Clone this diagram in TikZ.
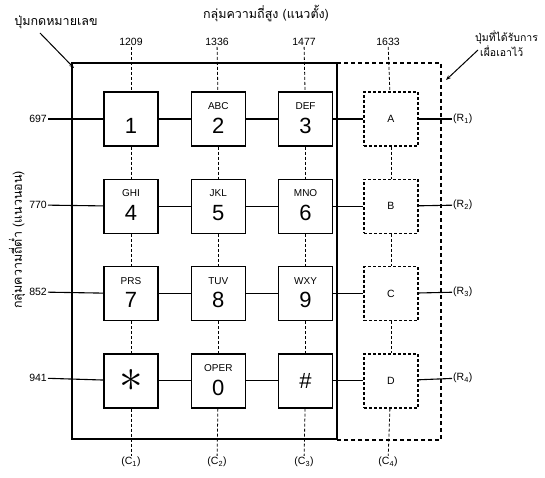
\documentclass[tikz,border=0pt]{standalone}
\usepackage{fontspec}
\setmainfont{Liberation Sans}
\newfontfamily\thaifont[Script=Thai]{Loma}
\usetikzlibrary{arrows.meta,positioning}

\newcommand{\keylbl}[2]{\begin{tabular}{@{}c@{}}\fontsize{10}{10}\selectfont\strut #1\\[5pt]\fontsize{22}{22}\selectfont #2\end{tabular}}

\begin{document}
\begin{tikzpicture}[x=1pt, y=-1pt,
    node distance=32pt,
    key/.style={rectangle, draw, line width=1.3pt, minimum size=54pt, inner sep=0pt},
    spare/.style={key, dash pattern=on 3pt off 2pt, font=\fontsize{10.5}{10.5}\selectfont},
    freq/.style={font=\fontsize{10.5}{10.5}\selectfont, inner sep=1pt},
    thai/.style={font=\thaifont\fontsize{12.5}{15}\selectfont, inner sep=1pt},
    link/.style={line width=1.1pt},
    col/.style={line width=0.8pt, densely dashed},
    note/.style={line width=1pt, -{Stealth[length=5pt]}},
]
\useasboundingbox (0,0) rectangle (545,478);

% frames
\draw[line width=1.3pt] (72,63) rectangle (337,439);
\draw[line width=1.3pt, dash pattern=on 4pt off 3pt] (337,63) -- (441,63) -- (441,440) -- (337,440);

% keys
\node[key] (k1) at (131,119) {\keylbl{}{1}};
\node[key, right=of k1] (k2) {\keylbl{ABC}{2}};
\node[key, right=of k2] (k3) {\keylbl{DEF}{3}};
\node[spare, right=30pt of k3] (kA) {A};
\node[key, below=of k1] (k4) {\keylbl{GHI}{4}};
\node[key, right=of k4] (k5) {\keylbl{JKL}{5}};
\node[key, right=of k5] (k6) {\keylbl{MNO}{6}};
\node[spare, right=30pt of k6] (kB) {B};
\node[key, below=of k4] (k7) {\keylbl{PRS}{7}};
\node[key, right=of k7] (k8) {\keylbl{TUV}{8}};
\node[key, right=of k8] (k9) {\keylbl{WXY}{9}};
\node[spare, right=30pt of k9] (kC) {C};
\node[key, below=of k7] (kS) {\scalebox{1.9}{\Huge$\ast$}};
\node[key, right=of kS] (k0) {\keylbl{OPER}{0}};
\node[key, right=of k0, font=\fontsize{22}{22}\selectfont] (kH) {\#};
\node[spare, right=30pt of kH] (kD) {D};

% frequencies
\node[freq] (f1209) at (131,42) {1209};
\node[freq] (f1336) at (217,42) {1336};
\node[freq] (f1477) at (304,42) {1477};
\node[freq] (f1633) at (388,42) {1633};
\node[freq, anchor=east] (f697) at (48,119) {697};
\node[freq, anchor=east] (f770) at (48,205) {770};
\node[freq, anchor=east] (f852) at (48,292) {852};
\node[freq, anchor=east] (f941) at (48,378) {941};
\node[freq, anchor=west] (r1) at (452,119) {(R\textsubscript{1})};
\node[freq, anchor=west] (r2) at (452,205) {(R\textsubscript{2})};
\node[freq, anchor=west] (r3) at (452,292) {(R\textsubscript{3})};
\node[freq, anchor=west] (r4) at (452,378) {(R\textsubscript{4})};
\node[freq] (c1) at (131,462) {(C\textsubscript{1})};
\node[freq] (c2) at (217,462) {(C\textsubscript{2})};
\node[freq] (c3) at (304,462) {(C\textsubscript{3})};
\node[freq] (c4) at (388,462) {(C\textsubscript{4})};

% rows
\foreach \a/\b in {f697/k1, k1/k2, k2/k3, k3/kA, kA/r1,
                   f770/k4, k4/k5, k5/k6, k6/kB, kB/r2,
                   f852/k7, k7/k8, k8/k9, k9/kC, kC/r3,
                   f941/kS, kS/k0, k0/kH, kH/kD, kD/r4}
    \draw[link] (\a) -- (\b);
% columns
\foreach \a/\b in {f1209/k1, k1/k4, k4/k7, k7/kS, kS/c1,
                   f1336/k2, k2/k5, k5/k8, k8/k0, k0/c2,
                   f1477/k3, k3/k6, k6/k9, k9/kH, kH/c3,
                   f1633/kA, kA/kB, kB/kC, kC/kD, kD/c4}
    \draw[col] (\a) -- (\b);

% labels
\node[thai] (lblpad) at (56,22) {ปุ่มกดหมายเลข};
\node[thai] (lblhigh) at (266,14) {กลุ่มความถี่สูง (แนวตั้ง)};
\node[thai, rotate=90] (lbllow) at (17,240) {กลุ่มความถี่ต่ำ (แนวนอน)};
\node[thai, font=\thaifont\fontsize{10.5}{13}\selectfont, anchor=north west, align=left] (lblspare) at (474,30) {ปุ่มที่ได้รับการ\\\hspace*{5pt}เผื่อเอาไว้};
\coordinate (padcorner) at (74,68);
\coordinate (sparecorner) at (446,80);
\draw[note] (40,33) -- (padcorner);
\draw[note] (478,50) -- (sparecorner);
\end{tikzpicture}
\end{document}
